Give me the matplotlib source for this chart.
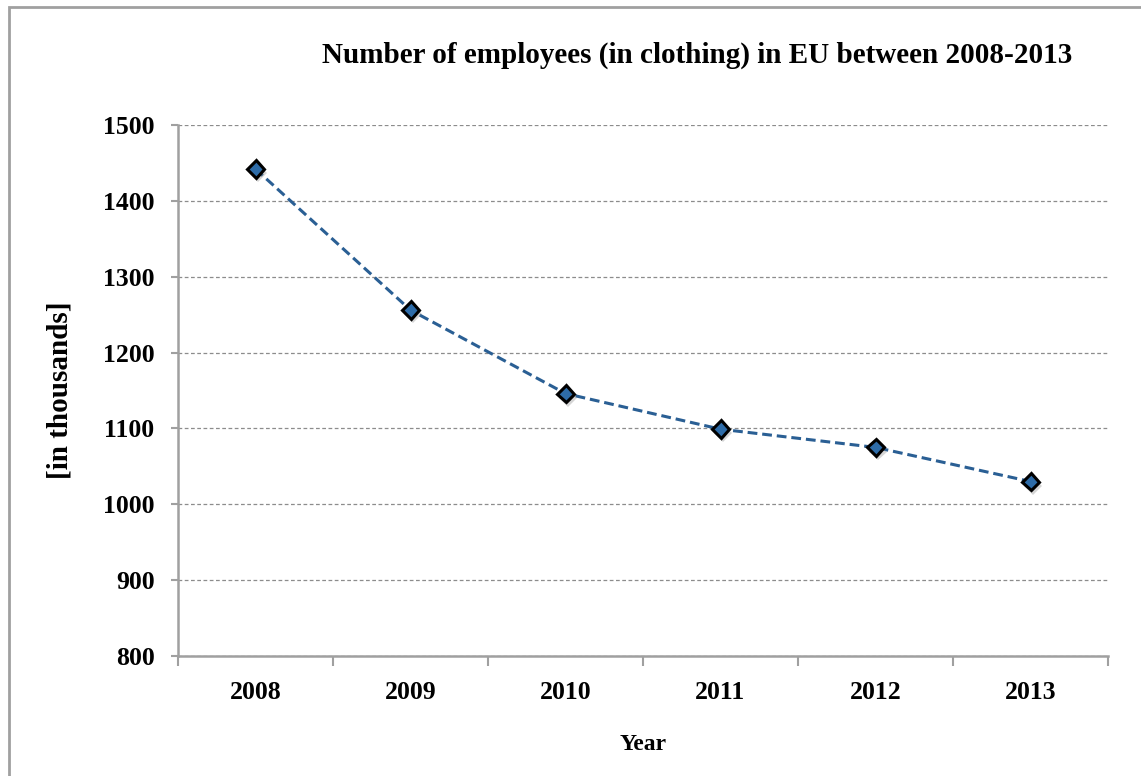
import matplotlib.pyplot as plt
import matplotlib.patheffects as pe
from matplotlib.patches import Rectangle

years = ['2008', '2009', '2010', '2011', '2012', '2013']
employees = [1442, 1256, 1146, 1099, 1075, 1030]
yticks = [800, 900, 1000, 1100, 1200, 1300, 1400, 1500]

plt.rcParams['font.family'] = ['Liberation Serif', 'DejaVu Serif']
plt.rcParams['font.weight'] = 'bold'

W, H = 1141, 776
fig = plt.figure(figsize=(W / 100, H / 100), dpi=100)
ax = fig.add_axes([178 / W, 1 - 656 / H, 930 / W, 531 / H])

# outer frame (only left and top edges visible)
fig.patches.append(Rectangle((9 / W, -0.1), 1.2, 1 - 7 / H + 0.1,
                             transform=fig.transFigure, fill=False,
                             edgecolor='#a0a0a0', linewidth=2))

x = range(len(years))
ax.plot(x, employees, color='#2a5f94', linestyle=(0, (3.2, 1.6)),
        linewidth=2.2, zorder=3)
ax.plot(x, employees, linestyle='none',
        marker='D', markersize=9, markerfacecolor='#2e6ca8',
        markeredgecolor='black', markeredgewidth=2.2, zorder=4,
        path_effects=[pe.SimplePatchShadow(offset=(2, -3), shadow_rgbFace='#888888', alpha=0.35),
                      pe.Normal()])

ax.set_xlim(-0.5, len(years) - 0.5)
ax.set_ylim(800, 1500)
ax.set_yticks(yticks)
ax.set_yticklabels([str(v) for v in yticks], fontsize=18.5, fontweight='bold')
ax.set_xticks([i - 0.5 for i in range(len(years) + 1)])
ax.set_xticklabels([])
ax.set_xticks(list(x), minor=True)
ax.set_xticklabels(years, minor=True, fontsize=18.5, fontweight='bold')
ax.tick_params(axis='x', which='major', length=7, color='#a0a0a0', width=1.5)
ax.tick_params(axis='x', which='minor', length=0, pad=18)
ax.tick_params(axis='y', length=5, color='#a0a0a0', width=1.5, pad=12)

ax.grid(axis='y', color='#8c8c8c', linestyle=(0, (3, 2)), linewidth=0.9)
for s in ['top', 'right']:
    ax.spines[s].set_visible(False)
for s in ['left', 'bottom']:
    ax.spines[s].set_color('#a0a0a0')
    ax.spines[s].set_linewidth(1.8)

fig.text(697 / W, 1 - 55 / H, 'Number of employees (in clothing) in EU between 2008-2013',
         ha='center', va='center', fontsize=21, fontweight='bold')
fig.text(60 / W, 1 - 390 / H, '[in thousands]', rotation=90,
         ha='center', va='center', fontsize=21, fontweight='bold')
fig.text(643 / W, 1 - 745 / H, 'Year', ha='center', va='center',
         fontsize=17, fontweight='bold')

fig.savefig('out.png', dpi=100)
